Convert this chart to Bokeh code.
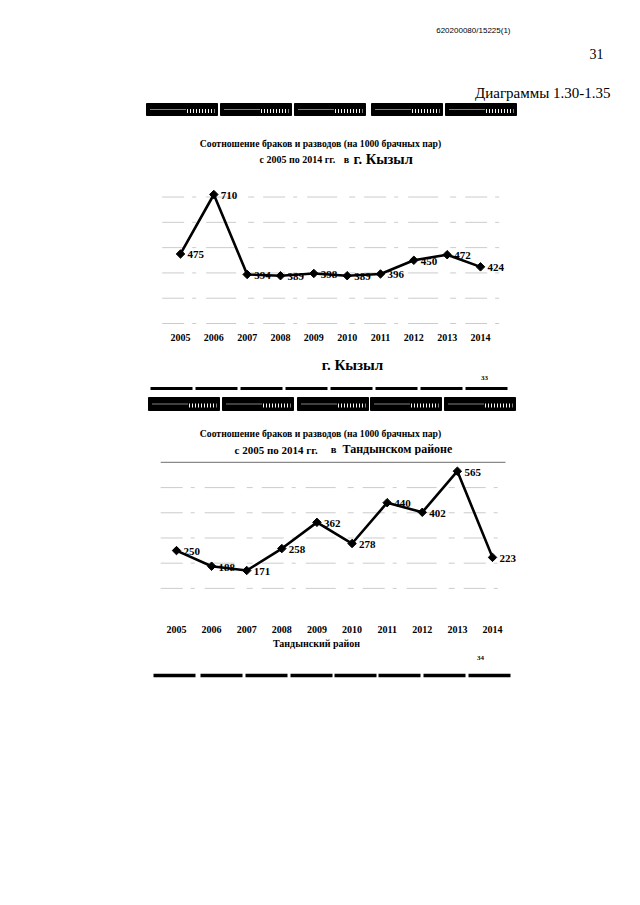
import math
from bokeh.plotting import figure
from bokeh.layouts import column
from bokeh.models import Range1d, FixedTicker
from bokeh.core.properties import value
from bokeh.embed import file_html
from bokeh.resources import INLINE

# ---------------- data ----------------
years = [2005, 2006, 2007, 2008, 2009, 2010, 2011, 2012, 2013, 2014]
year_labels = [str(y) for y in years]
kyzyl = [475, 710, 394, 389, 398, 389, 396, 450, 472, 424]
tandy = [250, 188, 171, 258, 362, 278, 440, 402, 565, 223]
kyzyl_labels = [str(v) for v in kyzyl]
tandy_labels = [str(v) for v in tandy]
kyzyl_grid = [200, 300, 400, 500, 600, 700]
tandy_grid = [100, 200, 300, 400, 500, 600]

title_line1 = "Соотношение браков и разводов (на 1000 брачных пар)"
title_period = "с 2005 по 2014 гг."
title_in = "в"
kyzyl_name = "г. Кызыл"
tandy_name2 = "Тандынском районе"
tandy_axis = "Тандынский район"
doc_id = "620200080/15225(1)"
page_no = "31"
diagrams = "Диаграммы 1.30-1.35"

W = 632
SERIF = value("Liberation Serif")
SANS = value("Liberation Sans")


def page_fig(top, bottom):
    """A figure whose data coordinates equal page pixel coordinates."""
    p = figure(width=W, height=bottom - top, x_range=Range1d(0, W),
               y_range=Range1d(bottom, top), output_backend="svg",
               toolbar_location=None, x_axis_location=None, y_axis_location=None,
               min_border=0)
    p.grid.visible = False
    p.outline_line_color = None
    return p


def txt(p, x, y, s, size, align="left", bold=True, font=SERIF):
    p.text([x], [y], text=[s], text_font=font,
           text_font_style="bold" if bold else "normal",
           text_font_size=size, text_align=align, text_baseline="middle",
           text_color="black")


def box_row(p, y0, y1, lefts, width):
    for x0 in lefts:
        p.quad(left=x0, right=x0 + width, top=y0, bottom=y1, color="black")
        ym = (y0 + y1) / 2
        p.segment(x0=x0 + 4, x1=x0 + width * 0.55, y0=ym, y1=ym,
                  line_color="white", line_width=1, line_dash="1 1")
        p.segment(x0=x0 + width * 0.57, x1=x0 + width - 3, y0=ym + 1.5, y1=ym + 1.5,
                  line_color="white", line_width=4, line_dash="1 2")


def dash_row(p, y, lefts, width, lw):
    for x0 in lefts:
        p.segment(x0=x0, x1=x0 + width, y0=y, y1=y, line_color="black", line_width=lw)


def chart_fig(top, frame_bottom, bottom, px_first, px_last, py_a, val_a,
              px_per_unit, standoff, axis_label=None):
    ppy = (px_last - px_first) / (years[-1] - years[0])
    x0 = years[0] - px_first / ppy
    x1 = years[-1] + (W - px_last) / ppy
    y_top = val_a + (py_a - top) / px_per_unit
    y_bot = val_a - (frame_bottom - py_a) / px_per_unit
    p = figure(width=W, height=bottom - top, x_range=Range1d(x0, x1),
               y_range=Range1d(y_bot, y_top), output_backend="svg",
               toolbar_location=None, y_axis_location=None,
               min_border_left=0, min_border_right=0,
               min_border_top=0, min_border_bottom=bottom - frame_bottom)
    p.grid.visible = False
    p.outline_line_color = None
    ax = p.xaxis[0]
    ax.ticker = FixedTicker(ticks=years)
    ax.major_label_overrides = {y: l for y, l in zip(years, year_labels)}
    ax.axis_line_color = None
    ax.major_tick_line_color = None
    ax.minor_tick_line_color = None
    ax.major_tick_out = 0
    ax.major_tick_in = 0
    ax.major_label_standoff = standoff
    ax.major_label_text_font = "Liberation Serif"
    ax.major_label_text_font_style = "bold"
    ax.major_label_text_font_size = "10px"
    ax.major_label_text_color = "black"
    if axis_label:
        ax.axis_label = axis_label
        ax.axis_label_text_font = "Liberation Serif"
        ax.axis_label_text_font_style = "bold"
        ax.axis_label_text_font_size = "10px"
        ax.axis_label_text_color = "black"
        ax.axis_label_standoff = 2
    return p


def draw_series(p, vals, labels, grid, gx0, gx1, grid_top_dark=False):
    for i, g in enumerate(grid):
        dark = grid_top_dark and i == len(grid) - 1
        p.segment(x0=gx0, x1=gx1, y0=g, y1=g,
                  line_color="#8a8a8a" if dark else "#cccccc",
                  line_width=1.2 if dark else 1,
                  line_dash="solid" if dark else "22 8 4 10 30 12 6 9")
    p.line(years, vals, line_color="black", line_width=2.6)
    p.scatter(years, vals, marker="square", angle=math.pi / 4, size=6,
              fill_color="black", line_color="black")
    p.text(years, vals, text=labels, x_offset=7, y_offset=1,
           text_font=SERIF, text_font_style="bold", text_font_size="11px",
           text_baseline="middle", text_align="left", text_color="black")


# ---------------- header ----------------
head = page_fig(0, 172)
txt(head, 510, 30, doc_id, "8px", align="right", bold=False, font=SANS)
txt(head, 603, 53, page_no, "14px", align="right", bold=False)
txt(head, 610, 92, diagrams, "15px", align="right", bold=False)
box_row(head, 103, 115, [146, 220, 294, 371, 445], 71)
txt(head, 320, 143, title_line1, "9.7px", align="center")
txt(head, 259, 159, title_period, "10px")
txt(head, 346, 159, title_in, "10px", align="center")
txt(head, 353, 158, kyzyl_name, "14.5px")

# ---------------- chart 1 ----------------
c1 = chart_fig(172, 328, 352, 180, 480, 194, 710, 0.253, 5)
draw_series(c1, kyzyl, kyzyl_labels, kyzyl_grid, 2004.45, 2014.75)

# ---------------- middle ----------------
mid = page_fig(352, 455)
txt(mid, 352, 364, kyzyl_name, "15px", align="center")
txt(mid, 484, 377, "33", "7px", align="center")
dash_row(mid, 388, [150, 195, 240, 285, 330, 375, 420, 465], 42, 3)
box_row(mid, 397, 410, [148, 222, 297, 370, 444], 71)
txt(mid, 320, 433, title_line1, "9.7px", align="center")
txt(mid, 234, 449, title_period, "11px")
txt(mid, 333, 449, title_in, "10.5px", align="center")
txt(mid, 342, 448, tandy_name2, "12px")

# ---------------- chart 2 ----------------
c2 = chart_fig(455, 618, 652, 176, 492, 470.7, 565, 0.252, 7,
               axis_label=tandy_axis)
draw_series(c2, tandy, tandy_labels, tandy_grid, 2004.55, 2014.37, grid_top_dark=True)

# ---------------- footer ----------------
foot = page_fig(652, 690)
txt(foot, 480, 657, "34", "7px", align="center")
dash_row(foot, 675, [153, 200, 245, 290, 334, 378, 423, 468], 42, 3.5)

layout = column(head, c1, mid, c2, foot, spacing=0)
open("out.html", "w").write(file_html(layout, INLINE))
